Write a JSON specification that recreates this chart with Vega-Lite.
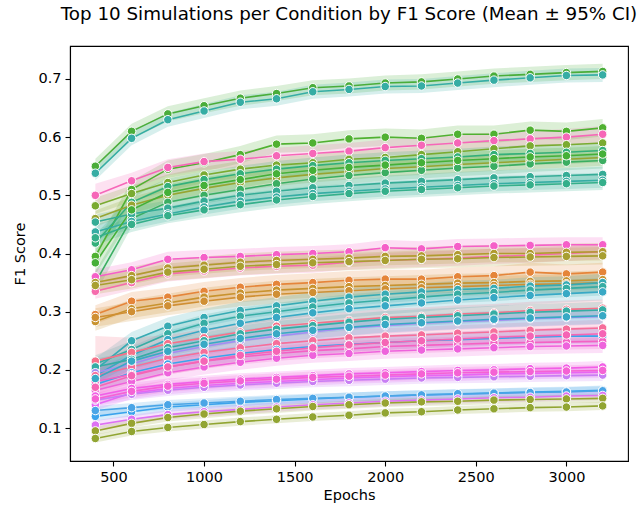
{"$schema":"https://vega.github.io/schema/vega-lite/v6.json","width":558,"height":415,"autosize":{"type":"none"},"padding":{"left":70,"top":46,"right":10,"bottom":48},"background":"white",
"title":{"text":"Top 10 Simulations per Condition by F1 Score (Mean ± 95% CI)","font":"DejaVu Sans","fontSize":18.3,"fontWeight":"normal","color":"black","anchor":"middle","offset":22},
"config":{"view":{"stroke":"black","strokeWidth":1.1},"axis":{"domainColor":"black","tickColor":"black","labelColor":"black","titleColor":"black","labelFont":"DejaVu Sans","titleFont":"DejaVu Sans","labelFontSize":14.5,"titleFontSize":14.5,"titleFontWeight":"normal","tickSize":5,"labelPadding":4,"grid":false,"domainWidth":1.1,"tickWidth":1.1}},
"data":{"values":[
{"s":"s01","x":400,"y":0.550,"l":0.537,"h":0.563},{"s":"s01","x":600,"y":0.610,"l":0.597,"h":0.623},{"s":"s01","x":800,"y":0.640,"l":0.627,"h":0.653},{"s":"s01","x":1000,"y":0.654,"l":0.641,"h":0.667},{"s":"s01","x":1200,"y":0.667,"l":0.654,"h":0.680},{"s":"s01","x":1400,"y":0.675,"l":0.662,"h":0.688},{"s":"s01","x":1600,"y":0.685,"l":0.672,"h":0.698},{"s":"s01","x":1800,"y":0.688,"l":0.675,"h":0.701},{"s":"s01","x":2000,"y":0.693,"l":0.680,"h":0.706},{"s":"s01","x":2200,"y":0.695,"l":0.682,"h":0.708},{"s":"s01","x":2400,"y":0.700,"l":0.687,"h":0.713},{"s":"s01","x":2600,"y":0.705,"l":0.692,"h":0.718},{"s":"s01","x":2800,"y":0.708,"l":0.695,"h":0.721},{"s":"s01","x":3000,"y":0.711,"l":0.698,"h":0.724},{"s":"s01","x":3200,"y":0.713,"l":0.700,"h":0.726},
{"s":"s02","x":400,"y":0.538,"l":0.526,"h":0.550},{"s":"s02","x":600,"y":0.598,"l":0.586,"h":0.610},{"s":"s02","x":800,"y":0.630,"l":0.618,"h":0.642},{"s":"s02","x":1000,"y":0.645,"l":0.633,"h":0.657},{"s":"s02","x":1200,"y":0.660,"l":0.648,"h":0.672},{"s":"s02","x":1400,"y":0.666,"l":0.654,"h":0.678},{"s":"s02","x":1600,"y":0.678,"l":0.666,"h":0.690},{"s":"s02","x":1800,"y":0.682,"l":0.670,"h":0.694},{"s":"s02","x":2000,"y":0.687,"l":0.675,"h":0.699},{"s":"s02","x":2200,"y":0.688,"l":0.676,"h":0.700},{"s":"s02","x":2400,"y":0.693,"l":0.681,"h":0.705},{"s":"s02","x":2600,"y":0.698,"l":0.686,"h":0.710},{"s":"s02","x":2800,"y":0.702,"l":0.690,"h":0.714},{"s":"s02","x":3000,"y":0.706,"l":0.694,"h":0.718},{"s":"s02","x":3200,"y":0.707,"l":0.695,"h":0.719},
{"s":"s03","x":400,"y":0.395,"l":0.375,"h":0.415},{"s":"s03","x":600,"y":0.510,"l":0.495,"h":0.525},{"s":"s03","x":800,"y":0.545,"l":0.530,"h":0.560},{"s":"s03","x":1000,"y":0.556,"l":0.541,"h":0.571},{"s":"s03","x":1200,"y":0.570,"l":0.555,"h":0.585},{"s":"s03","x":1400,"y":0.588,"l":0.573,"h":0.603},{"s":"s03","x":1600,"y":0.590,"l":0.575,"h":0.605},{"s":"s03","x":1800,"y":0.597,"l":0.582,"h":0.612},{"s":"s03","x":2000,"y":0.600,"l":0.585,"h":0.615},{"s":"s03","x":2200,"y":0.598,"l":0.583,"h":0.613},{"s":"s03","x":2400,"y":0.605,"l":0.590,"h":0.620},{"s":"s03","x":2600,"y":0.605,"l":0.590,"h":0.620},{"s":"s03","x":2800,"y":0.612,"l":0.597,"h":0.627},{"s":"s03","x":3000,"y":0.610,"l":0.595,"h":0.625},{"s":"s03","x":3200,"y":0.616,"l":0.601,"h":0.631},
{"s":"s04","x":400,"y":0.500,"l":0.480,"h":0.520},{"s":"s04","x":600,"y":0.525,"l":0.511,"h":0.539},{"s":"s04","x":800,"y":0.548,"l":0.534,"h":0.562},{"s":"s04","x":1000,"y":0.558,"l":0.544,"h":0.572},{"s":"s04","x":1200,"y":0.562,"l":0.548,"h":0.576},{"s":"s04","x":1400,"y":0.568,"l":0.554,"h":0.582},{"s":"s04","x":1600,"y":0.572,"l":0.558,"h":0.586},{"s":"s04","x":1800,"y":0.576,"l":0.562,"h":0.590},{"s":"s04","x":2000,"y":0.582,"l":0.568,"h":0.596},{"s":"s04","x":2200,"y":0.586,"l":0.572,"h":0.600},{"s":"s04","x":2400,"y":0.590,"l":0.576,"h":0.604},{"s":"s04","x":2600,"y":0.594,"l":0.580,"h":0.608},{"s":"s04","x":2800,"y":0.597,"l":0.583,"h":0.611},{"s":"s04","x":3000,"y":0.600,"l":0.586,"h":0.614},{"s":"s04","x":3200,"y":0.605,"l":0.591,"h":0.619},
{"s":"s05","x":400,"y":0.482,"l":0.468,"h":0.496},{"s":"s05","x":600,"y":0.503,"l":0.489,"h":0.517},{"s":"s05","x":800,"y":0.522,"l":0.508,"h":0.536},{"s":"s05","x":1000,"y":0.535,"l":0.521,"h":0.549},{"s":"s05","x":1200,"y":0.545,"l":0.531,"h":0.559},{"s":"s05","x":1400,"y":0.552,"l":0.538,"h":0.566},{"s":"s05","x":1600,"y":0.556,"l":0.542,"h":0.570},{"s":"s05","x":1800,"y":0.562,"l":0.548,"h":0.576},{"s":"s05","x":2000,"y":0.565,"l":0.551,"h":0.579},{"s":"s05","x":2200,"y":0.570,"l":0.556,"h":0.584},{"s":"s05","x":2400,"y":0.575,"l":0.561,"h":0.589},{"s":"s05","x":2600,"y":0.580,"l":0.566,"h":0.594},{"s":"s05","x":2800,"y":0.585,"l":0.571,"h":0.599},{"s":"s05","x":3000,"y":0.587,"l":0.573,"h":0.601},{"s":"s05","x":3200,"y":0.590,"l":0.576,"h":0.604},
{"s":"s06","x":400,"y":0.418,"l":0.404,"h":0.432},{"s":"s06","x":600,"y":0.488,"l":0.474,"h":0.502},{"s":"s06","x":800,"y":0.515,"l":0.501,"h":0.529},{"s":"s06","x":1000,"y":0.527,"l":0.513,"h":0.541},{"s":"s06","x":1200,"y":0.537,"l":0.523,"h":0.551},{"s":"s06","x":1400,"y":0.545,"l":0.531,"h":0.559},{"s":"s06","x":1600,"y":0.551,"l":0.537,"h":0.565},{"s":"s06","x":1800,"y":0.556,"l":0.542,"h":0.570},{"s":"s06","x":2000,"y":0.560,"l":0.546,"h":0.574},{"s":"s06","x":2200,"y":0.563,"l":0.549,"h":0.577},{"s":"s06","x":2400,"y":0.566,"l":0.552,"h":0.580},{"s":"s06","x":2600,"y":0.570,"l":0.556,"h":0.584},{"s":"s06","x":2800,"y":0.572,"l":0.558,"h":0.586},{"s":"s06","x":3000,"y":0.574,"l":0.560,"h":0.588},{"s":"s06","x":3200,"y":0.577,"l":0.563,"h":0.591},
{"s":"s07","x":400,"y":0.460,"l":0.446,"h":0.474},{"s":"s07","x":600,"y":0.483,"l":0.469,"h":0.497},{"s":"s07","x":800,"y":0.500,"l":0.486,"h":0.514},{"s":"s07","x":1000,"y":0.512,"l":0.498,"h":0.526},{"s":"s07","x":1200,"y":0.522,"l":0.508,"h":0.536},{"s":"s07","x":1400,"y":0.530,"l":0.516,"h":0.544},{"s":"s07","x":1600,"y":0.536,"l":0.522,"h":0.550},{"s":"s07","x":1800,"y":0.541,"l":0.527,"h":0.555},{"s":"s07","x":2000,"y":0.546,"l":0.532,"h":0.560},{"s":"s07","x":2200,"y":0.549,"l":0.535,"h":0.563},{"s":"s07","x":2400,"y":0.553,"l":0.539,"h":0.567},{"s":"s07","x":2600,"y":0.556,"l":0.542,"h":0.570},{"s":"s07","x":2800,"y":0.559,"l":0.545,"h":0.573},{"s":"s07","x":3000,"y":0.562,"l":0.548,"h":0.576},{"s":"s07","x":3200,"y":0.565,"l":0.551,"h":0.579},
{"s":"s08","x":400,"y":0.350,"l":0.330,"h":0.370},{"s":"s08","x":600,"y":0.460,"l":0.446,"h":0.474},{"s":"s08","x":800,"y":0.488,"l":0.474,"h":0.502},{"s":"s08","x":1000,"y":0.500,"l":0.486,"h":0.514},{"s":"s08","x":1200,"y":0.510,"l":0.496,"h":0.524},{"s":"s08","x":1400,"y":0.520,"l":0.506,"h":0.534},{"s":"s08","x":1600,"y":0.528,"l":0.514,"h":0.542},{"s":"s08","x":1800,"y":0.534,"l":0.520,"h":0.548},{"s":"s08","x":2000,"y":0.539,"l":0.525,"h":0.553},{"s":"s08","x":2200,"y":0.543,"l":0.529,"h":0.557},{"s":"s08","x":2400,"y":0.547,"l":0.533,"h":0.561},{"s":"s08","x":2600,"y":0.550,"l":0.536,"h":0.564},{"s":"s08","x":2800,"y":0.554,"l":0.540,"h":0.568},{"s":"s08","x":3000,"y":0.557,"l":0.543,"h":0.571},{"s":"s08","x":3200,"y":0.560,"l":0.546,"h":0.574},
{"s":"s09","x":400,"y":0.454,"l":0.441,"h":0.467},{"s":"s09","x":600,"y":0.468,"l":0.455,"h":0.481},{"s":"s09","x":800,"y":0.478,"l":0.465,"h":0.491},{"s":"s09","x":1000,"y":0.490,"l":0.477,"h":0.503},{"s":"s09","x":1200,"y":0.500,"l":0.487,"h":0.513},{"s":"s09","x":1400,"y":0.507,"l":0.494,"h":0.520},{"s":"s09","x":1600,"y":0.513,"l":0.500,"h":0.526},{"s":"s09","x":1800,"y":0.517,"l":0.504,"h":0.530},{"s":"s09","x":2000,"y":0.521,"l":0.508,"h":0.534},{"s":"s09","x":2200,"y":0.524,"l":0.511,"h":0.537},{"s":"s09","x":2400,"y":0.527,"l":0.514,"h":0.540},{"s":"s09","x":2600,"y":0.530,"l":0.517,"h":0.543},{"s":"s09","x":2800,"y":0.532,"l":0.519,"h":0.545},{"s":"s09","x":3000,"y":0.534,"l":0.521,"h":0.547},{"s":"s09","x":3200,"y":0.536,"l":0.523,"h":0.549},
{"s":"s10","x":400,"y":0.437,"l":0.424,"h":0.450},{"s":"s10","x":600,"y":0.455,"l":0.442,"h":0.468},{"s":"s10","x":800,"y":0.468,"l":0.455,"h":0.481},{"s":"s10","x":1000,"y":0.480,"l":0.467,"h":0.493},{"s":"s10","x":1200,"y":0.490,"l":0.477,"h":0.503},{"s":"s10","x":1400,"y":0.497,"l":0.484,"h":0.510},{"s":"s10","x":1600,"y":0.503,"l":0.490,"h":0.516},{"s":"s10","x":1800,"y":0.507,"l":0.494,"h":0.520},{"s":"s10","x":2000,"y":0.511,"l":0.498,"h":0.524},{"s":"s10","x":2200,"y":0.514,"l":0.501,"h":0.527},{"s":"s10","x":2400,"y":0.517,"l":0.504,"h":0.530},{"s":"s10","x":2600,"y":0.520,"l":0.507,"h":0.533},{"s":"s10","x":2800,"y":0.522,"l":0.509,"h":0.535},{"s":"s10","x":3000,"y":0.524,"l":0.511,"h":0.537},{"s":"s10","x":3200,"y":0.526,"l":0.513,"h":0.539},
{"s":"s11","x":400,"y":0.384,"l":0.364,"h":0.404},{"s":"s11","x":600,"y":0.475,"l":0.461,"h":0.489},{"s":"s11","x":800,"y":0.505,"l":0.491,"h":0.519},{"s":"s11","x":1000,"y":0.517,"l":0.503,"h":0.531},{"s":"s11","x":1200,"y":0.527,"l":0.513,"h":0.541},{"s":"s11","x":1400,"y":0.537,"l":0.523,"h":0.551},{"s":"s11","x":1600,"y":0.543,"l":0.529,"h":0.557},{"s":"s11","x":1800,"y":0.548,"l":0.534,"h":0.562},{"s":"s11","x":2000,"y":0.552,"l":0.538,"h":0.566},{"s":"s11","x":2200,"y":0.556,"l":0.542,"h":0.570},{"s":"s11","x":2400,"y":0.560,"l":0.546,"h":0.574},{"s":"s11","x":2600,"y":0.563,"l":0.549,"h":0.577},{"s":"s11","x":2800,"y":0.566,"l":0.552,"h":0.580},{"s":"s11","x":3000,"y":0.568,"l":0.554,"h":0.582},{"s":"s11","x":3200,"y":0.571,"l":0.557,"h":0.585},
{"s":"s12","x":400,"y":0.427,"l":0.414,"h":0.440},{"s":"s12","x":600,"y":0.450,"l":0.437,"h":0.463},{"s":"s12","x":800,"y":0.465,"l":0.452,"h":0.478},{"s":"s12","x":1000,"y":0.475,"l":0.462,"h":0.488},{"s":"s12","x":1200,"y":0.484,"l":0.471,"h":0.497},{"s":"s12","x":1400,"y":0.492,"l":0.479,"h":0.505},{"s":"s12","x":1600,"y":0.498,"l":0.485,"h":0.511},{"s":"s12","x":1800,"y":0.503,"l":0.490,"h":0.516},{"s":"s12","x":2000,"y":0.507,"l":0.494,"h":0.520},{"s":"s12","x":2200,"y":0.510,"l":0.497,"h":0.523},{"s":"s12","x":2400,"y":0.513,"l":0.500,"h":0.526},{"s":"s12","x":2600,"y":0.516,"l":0.503,"h":0.529},{"s":"s12","x":2800,"y":0.518,"l":0.505,"h":0.531},{"s":"s12","x":3000,"y":0.520,"l":0.507,"h":0.533},{"s":"s12","x":3200,"y":0.522,"l":0.509,"h":0.535},
{"s":"s13","x":400,"y":0.360,"l":0.347,"h":0.373},{"s":"s13","x":600,"y":0.372,"l":0.359,"h":0.385},{"s":"s13","x":800,"y":0.390,"l":0.377,"h":0.403},{"s":"s13","x":1000,"y":0.393,"l":0.380,"h":0.406},{"s":"s13","x":1200,"y":0.395,"l":0.382,"h":0.408},{"s":"s13","x":1400,"y":0.398,"l":0.385,"h":0.411},{"s":"s13","x":1600,"y":0.400,"l":0.387,"h":0.413},{"s":"s13","x":1800,"y":0.403,"l":0.390,"h":0.416},{"s":"s13","x":2000,"y":0.410,"l":0.397,"h":0.423},{"s":"s13","x":2200,"y":0.408,"l":0.395,"h":0.421},{"s":"s13","x":2400,"y":0.412,"l":0.399,"h":0.425},{"s":"s13","x":2600,"y":0.413,"l":0.400,"h":0.426},{"s":"s13","x":2800,"y":0.414,"l":0.401,"h":0.427},{"s":"s13","x":3000,"y":0.415,"l":0.402,"h":0.428},{"s":"s13","x":3200,"y":0.415,"l":0.402,"h":0.428},
{"s":"s14","x":400,"y":0.335,"l":0.322,"h":0.348},{"s":"s14","x":600,"y":0.350,"l":0.337,"h":0.363},{"s":"s14","x":800,"y":0.365,"l":0.352,"h":0.378},{"s":"s14","x":1000,"y":0.370,"l":0.357,"h":0.383},{"s":"s14","x":1200,"y":0.375,"l":0.362,"h":0.388},{"s":"s14","x":1400,"y":0.378,"l":0.365,"h":0.391},{"s":"s14","x":1600,"y":0.380,"l":0.367,"h":0.393},{"s":"s14","x":1800,"y":0.385,"l":0.372,"h":0.398},{"s":"s14","x":2000,"y":0.388,"l":0.375,"h":0.401},{"s":"s14","x":2200,"y":0.390,"l":0.377,"h":0.403},{"s":"s14","x":2400,"y":0.392,"l":0.379,"h":0.405},{"s":"s14","x":2600,"y":0.395,"l":0.382,"h":0.408},{"s":"s14","x":2800,"y":0.397,"l":0.384,"h":0.410},{"s":"s14","x":3000,"y":0.400,"l":0.387,"h":0.413},{"s":"s14","x":3200,"y":0.403,"l":0.390,"h":0.416},
{"s":"s15","x":400,"y":0.350,"l":0.335,"h":0.365},{"s":"s15","x":600,"y":0.362,"l":0.347,"h":0.377},{"s":"s15","x":800,"y":0.375,"l":0.360,"h":0.390},{"s":"s15","x":1000,"y":0.380,"l":0.365,"h":0.395},{"s":"s15","x":1200,"y":0.385,"l":0.370,"h":0.400},{"s":"s15","x":1400,"y":0.388,"l":0.373,"h":0.403},{"s":"s15","x":1600,"y":0.390,"l":0.375,"h":0.405},{"s":"s15","x":1800,"y":0.392,"l":0.377,"h":0.407},{"s":"s15","x":2000,"y":0.395,"l":0.380,"h":0.410},{"s":"s15","x":2200,"y":0.396,"l":0.381,"h":0.411},{"s":"s15","x":2400,"y":0.398,"l":0.383,"h":0.413},{"s":"s15","x":2600,"y":0.400,"l":0.385,"h":0.415},{"s":"s15","x":2800,"y":0.400,"l":0.385,"h":0.415},{"s":"s15","x":3000,"y":0.402,"l":0.387,"h":0.417},{"s":"s15","x":3200,"y":0.403,"l":0.388,"h":0.418},
{"s":"s16","x":400,"y":0.345,"l":0.330,"h":0.360},{"s":"s16","x":600,"y":0.355,"l":0.340,"h":0.370},{"s":"s16","x":800,"y":0.368,"l":0.353,"h":0.383},{"s":"s16","x":1000,"y":0.373,"l":0.358,"h":0.388},{"s":"s16","x":1200,"y":0.378,"l":0.363,"h":0.393},{"s":"s16","x":1400,"y":0.381,"l":0.366,"h":0.396},{"s":"s16","x":1600,"y":0.384,"l":0.369,"h":0.399},{"s":"s16","x":1800,"y":0.386,"l":0.371,"h":0.401},{"s":"s16","x":2000,"y":0.388,"l":0.373,"h":0.403},{"s":"s16","x":2200,"y":0.390,"l":0.375,"h":0.405},{"s":"s16","x":2400,"y":0.391,"l":0.376,"h":0.406},{"s":"s16","x":2600,"y":0.393,"l":0.378,"h":0.408},{"s":"s16","x":2800,"y":0.394,"l":0.379,"h":0.409},{"s":"s16","x":3000,"y":0.395,"l":0.380,"h":0.410},{"s":"s16","x":3200,"y":0.396,"l":0.381,"h":0.411},
{"s":"s17","x":400,"y":0.295,"l":0.279,"h":0.311},{"s":"s17","x":600,"y":0.318,"l":0.302,"h":0.334},{"s":"s17","x":800,"y":0.325,"l":0.309,"h":0.341},{"s":"s17","x":1000,"y":0.335,"l":0.319,"h":0.351},{"s":"s17","x":1200,"y":0.342,"l":0.326,"h":0.358},{"s":"s17","x":1400,"y":0.347,"l":0.331,"h":0.363},{"s":"s17","x":1600,"y":0.350,"l":0.334,"h":0.366},{"s":"s17","x":1800,"y":0.354,"l":0.338,"h":0.370},{"s":"s17","x":2000,"y":0.356,"l":0.340,"h":0.372},{"s":"s17","x":2200,"y":0.356,"l":0.340,"h":0.372},{"s":"s17","x":2400,"y":0.360,"l":0.344,"h":0.376},{"s":"s17","x":2600,"y":0.362,"l":0.346,"h":0.378},{"s":"s17","x":2800,"y":0.368,"l":0.352,"h":0.384},{"s":"s17","x":3000,"y":0.365,"l":0.349,"h":0.381},{"s":"s17","x":3200,"y":0.368,"l":0.352,"h":0.384},
{"s":"s18","x":400,"y":0.283,"l":0.267,"h":0.299},{"s":"s18","x":600,"y":0.305,"l":0.289,"h":0.321},{"s":"s18","x":800,"y":0.315,"l":0.299,"h":0.331},{"s":"s18","x":1000,"y":0.325,"l":0.309,"h":0.341},{"s":"s18","x":1200,"y":0.332,"l":0.316,"h":0.348},{"s":"s18","x":1400,"y":0.337,"l":0.321,"h":0.353},{"s":"s18","x":1600,"y":0.340,"l":0.324,"h":0.356},{"s":"s18","x":1800,"y":0.343,"l":0.327,"h":0.359},{"s":"s18","x":2000,"y":0.345,"l":0.329,"h":0.361},{"s":"s18","x":2200,"y":0.347,"l":0.331,"h":0.363},{"s":"s18","x":2400,"y":0.349,"l":0.333,"h":0.365},{"s":"s18","x":2600,"y":0.350,"l":0.334,"h":0.366},{"s":"s18","x":2800,"y":0.352,"l":0.336,"h":0.368},{"s":"s18","x":3000,"y":0.353,"l":0.337,"h":0.369},{"s":"s18","x":3200,"y":0.355,"l":0.339,"h":0.371},
{"s":"s19","x":400,"y":0.290,"l":0.274,"h":0.306},{"s":"s19","x":600,"y":0.300,"l":0.284,"h":0.316},{"s":"s19","x":800,"y":0.310,"l":0.294,"h":0.326},{"s":"s19","x":1000,"y":0.318,"l":0.302,"h":0.334},{"s":"s19","x":1200,"y":0.325,"l":0.309,"h":0.341},{"s":"s19","x":1400,"y":0.330,"l":0.314,"h":0.346},{"s":"s19","x":1600,"y":0.333,"l":0.317,"h":0.349},{"s":"s19","x":1800,"y":0.336,"l":0.320,"h":0.352},{"s":"s19","x":2000,"y":0.339,"l":0.323,"h":0.355},{"s":"s19","x":2200,"y":0.341,"l":0.325,"h":0.357},{"s":"s19","x":2400,"y":0.343,"l":0.327,"h":0.359},{"s":"s19","x":2600,"y":0.345,"l":0.329,"h":0.361},{"s":"s19","x":2800,"y":0.347,"l":0.331,"h":0.363},{"s":"s19","x":3000,"y":0.348,"l":0.332,"h":0.364},{"s":"s19","x":3200,"y":0.350,"l":0.334,"h":0.366},
{"s":"s20","x":400,"y":0.200,"l":0.180,"h":0.220},{"s":"s20","x":600,"y":0.250,"l":0.235,"h":0.265},{"s":"s20","x":800,"y":0.275,"l":0.260,"h":0.290},{"s":"s20","x":1000,"y":0.290,"l":0.275,"h":0.305},{"s":"s20","x":1200,"y":0.302,"l":0.287,"h":0.317},{"s":"s20","x":1400,"y":0.310,"l":0.295,"h":0.325},{"s":"s20","x":1600,"y":0.318,"l":0.303,"h":0.333},{"s":"s20","x":1800,"y":0.325,"l":0.310,"h":0.340},{"s":"s20","x":2000,"y":0.330,"l":0.315,"h":0.345},{"s":"s20","x":2200,"y":0.334,"l":0.319,"h":0.349},{"s":"s20","x":2400,"y":0.338,"l":0.323,"h":0.353},{"s":"s20","x":2600,"y":0.340,"l":0.325,"h":0.355},{"s":"s20","x":2800,"y":0.344,"l":0.329,"h":0.359},{"s":"s20","x":3000,"y":0.346,"l":0.331,"h":0.361},{"s":"s20","x":3200,"y":0.350,"l":0.335,"h":0.365},
{"s":"s21","x":400,"y":0.210,"l":0.195,"h":0.225},{"s":"s21","x":600,"y":0.235,"l":0.220,"h":0.250},{"s":"s21","x":800,"y":0.262,"l":0.247,"h":0.277},{"s":"s21","x":1000,"y":0.280,"l":0.265,"h":0.295},{"s":"s21","x":1200,"y":0.292,"l":0.277,"h":0.307},{"s":"s21","x":1400,"y":0.300,"l":0.285,"h":0.315},{"s":"s21","x":1600,"y":0.308,"l":0.293,"h":0.323},{"s":"s21","x":1800,"y":0.315,"l":0.300,"h":0.330},{"s":"s21","x":2000,"y":0.320,"l":0.305,"h":0.335},{"s":"s21","x":2200,"y":0.325,"l":0.310,"h":0.340},{"s":"s21","x":2400,"y":0.330,"l":0.315,"h":0.345},{"s":"s21","x":2600,"y":0.333,"l":0.318,"h":0.348},{"s":"s21","x":2800,"y":0.337,"l":0.322,"h":0.352},{"s":"s21","x":3000,"y":0.340,"l":0.325,"h":0.355},{"s":"s21","x":3200,"y":0.343,"l":0.328,"h":0.358},
{"s":"s22","x":400,"y":0.190,"l":0.175,"h":0.205},{"s":"s22","x":600,"y":0.225,"l":0.210,"h":0.240},{"s":"s22","x":800,"y":0.252,"l":0.237,"h":0.267},{"s":"s22","x":1000,"y":0.268,"l":0.253,"h":0.283},{"s":"s22","x":1200,"y":0.280,"l":0.265,"h":0.295},{"s":"s22","x":1400,"y":0.290,"l":0.275,"h":0.305},{"s":"s22","x":1600,"y":0.298,"l":0.283,"h":0.313},{"s":"s22","x":1800,"y":0.305,"l":0.290,"h":0.320},{"s":"s22","x":2000,"y":0.310,"l":0.295,"h":0.325},{"s":"s22","x":2200,"y":0.315,"l":0.300,"h":0.330},{"s":"s22","x":2400,"y":0.320,"l":0.305,"h":0.335},{"s":"s22","x":2600,"y":0.324,"l":0.309,"h":0.339},{"s":"s22","x":2800,"y":0.328,"l":0.313,"h":0.343},{"s":"s22","x":3000,"y":0.331,"l":0.316,"h":0.346},{"s":"s22","x":3200,"y":0.334,"l":0.319,"h":0.349},
{"s":"s23","x":400,"y":0.215,"l":0.180,"h":0.258},{"s":"s23","x":600,"y":0.230,"l":0.205,"h":0.255},{"s":"s23","x":800,"y":0.245,"l":0.230,"h":0.260},{"s":"s23","x":1000,"y":0.255,"l":0.240,"h":0.270},{"s":"s23","x":1200,"y":0.265,"l":0.250,"h":0.280},{"s":"s23","x":1400,"y":0.275,"l":0.260,"h":0.290},{"s":"s23","x":1600,"y":0.280,"l":0.265,"h":0.295},{"s":"s23","x":1800,"y":0.285,"l":0.270,"h":0.300},{"s":"s23","x":2000,"y":0.290,"l":0.275,"h":0.305},{"s":"s23","x":2200,"y":0.292,"l":0.277,"h":0.307},{"s":"s23","x":2400,"y":0.296,"l":0.281,"h":0.311},{"s":"s23","x":2600,"y":0.298,"l":0.283,"h":0.313},{"s":"s23","x":2800,"y":0.302,"l":0.287,"h":0.317},{"s":"s23","x":3000,"y":0.304,"l":0.289,"h":0.319},{"s":"s23","x":3200,"y":0.306,"l":0.291,"h":0.321},
{"s":"s24","x":400,"y":0.205,"l":0.191,"h":0.219},{"s":"s24","x":600,"y":0.218,"l":0.204,"h":0.232},{"s":"s24","x":800,"y":0.238,"l":0.224,"h":0.252},{"s":"s24","x":1000,"y":0.250,"l":0.236,"h":0.264},{"s":"s24","x":1200,"y":0.262,"l":0.248,"h":0.276},{"s":"s24","x":1400,"y":0.270,"l":0.256,"h":0.284},{"s":"s24","x":1600,"y":0.276,"l":0.262,"h":0.290},{"s":"s24","x":1800,"y":0.282,"l":0.268,"h":0.296},{"s":"s24","x":2000,"y":0.287,"l":0.273,"h":0.301},{"s":"s24","x":2200,"y":0.290,"l":0.276,"h":0.304},{"s":"s24","x":2400,"y":0.293,"l":0.279,"h":0.307},{"s":"s24","x":2600,"y":0.296,"l":0.282,"h":0.310},{"s":"s24","x":2800,"y":0.299,"l":0.285,"h":0.313},{"s":"s24","x":3000,"y":0.301,"l":0.287,"h":0.315},{"s":"s24","x":3200,"y":0.303,"l":0.289,"h":0.317},
{"s":"s25","x":400,"y":0.195,"l":0.181,"h":0.209},{"s":"s25","x":600,"y":0.210,"l":0.196,"h":0.224},{"s":"s25","x":800,"y":0.228,"l":0.214,"h":0.242},{"s":"s25","x":1000,"y":0.240,"l":0.226,"h":0.254},{"s":"s25","x":1200,"y":0.250,"l":0.236,"h":0.264},{"s":"s25","x":1400,"y":0.258,"l":0.244,"h":0.272},{"s":"s25","x":1600,"y":0.265,"l":0.251,"h":0.279},{"s":"s25","x":1800,"y":0.272,"l":0.258,"h":0.286},{"s":"s25","x":2000,"y":0.276,"l":0.262,"h":0.290},{"s":"s25","x":2200,"y":0.280,"l":0.266,"h":0.294},{"s":"s25","x":2400,"y":0.283,"l":0.269,"h":0.297},{"s":"s25","x":2600,"y":0.285,"l":0.271,"h":0.299},{"s":"s25","x":2800,"y":0.288,"l":0.274,"h":0.302},{"s":"s25","x":3000,"y":0.290,"l":0.276,"h":0.304},{"s":"s25","x":3200,"y":0.292,"l":0.278,"h":0.306},
{"s":"s26","x":400,"y":0.190,"l":0.176,"h":0.204},{"s":"s26","x":600,"y":0.205,"l":0.191,"h":0.219},{"s":"s26","x":800,"y":0.220,"l":0.206,"h":0.234},{"s":"s26","x":1000,"y":0.230,"l":0.216,"h":0.244},{"s":"s26","x":1200,"y":0.238,"l":0.224,"h":0.252},{"s":"s26","x":1400,"y":0.245,"l":0.231,"h":0.259},{"s":"s26","x":1600,"y":0.250,"l":0.236,"h":0.264},{"s":"s26","x":1800,"y":0.255,"l":0.241,"h":0.269},{"s":"s26","x":2000,"y":0.258,"l":0.244,"h":0.272},{"s":"s26","x":2200,"y":0.260,"l":0.246,"h":0.274},{"s":"s26","x":2400,"y":0.263,"l":0.249,"h":0.277},{"s":"s26","x":2600,"y":0.265,"l":0.251,"h":0.279},{"s":"s26","x":2800,"y":0.268,"l":0.254,"h":0.282},{"s":"s26","x":3000,"y":0.270,"l":0.256,"h":0.284},{"s":"s26","x":3200,"y":0.272,"l":0.258,"h":0.286},
{"s":"s27","x":400,"y":0.175,"l":0.162,"h":0.188},{"s":"s27","x":600,"y":0.195,"l":0.182,"h":0.208},{"s":"s27","x":800,"y":0.210,"l":0.197,"h":0.223},{"s":"s27","x":1000,"y":0.220,"l":0.207,"h":0.233},{"s":"s27","x":1200,"y":0.228,"l":0.215,"h":0.241},{"s":"s27","x":1400,"y":0.235,"l":0.222,"h":0.248},{"s":"s27","x":1600,"y":0.240,"l":0.227,"h":0.253},{"s":"s27","x":1800,"y":0.244,"l":0.231,"h":0.257},{"s":"s27","x":2000,"y":0.247,"l":0.234,"h":0.260},{"s":"s27","x":2200,"y":0.250,"l":0.237,"h":0.263},{"s":"s27","x":2400,"y":0.252,"l":0.239,"h":0.265},{"s":"s27","x":2600,"y":0.254,"l":0.241,"h":0.267},{"s":"s27","x":2800,"y":0.256,"l":0.243,"h":0.269},{"s":"s27","x":3000,"y":0.258,"l":0.245,"h":0.271},{"s":"s27","x":3200,"y":0.258,"l":0.245,"h":0.271},
{"s":"s28","x":400,"y":0.180,"l":0.167,"h":0.193},{"s":"s28","x":600,"y":0.192,"l":0.179,"h":0.205},{"s":"s28","x":800,"y":0.205,"l":0.192,"h":0.218},{"s":"s28","x":1000,"y":0.215,"l":0.202,"h":0.228},{"s":"s28","x":1200,"y":0.222,"l":0.209,"h":0.235},{"s":"s28","x":1400,"y":0.228,"l":0.215,"h":0.241},{"s":"s28","x":1600,"y":0.233,"l":0.220,"h":0.246},{"s":"s28","x":1800,"y":0.236,"l":0.223,"h":0.249},{"s":"s28","x":2000,"y":0.240,"l":0.227,"h":0.253},{"s":"s28","x":2200,"y":0.242,"l":0.229,"h":0.255},{"s":"s28","x":2400,"y":0.244,"l":0.231,"h":0.257},{"s":"s28","x":2600,"y":0.246,"l":0.233,"h":0.259},{"s":"s28","x":2800,"y":0.247,"l":0.234,"h":0.260},{"s":"s28","x":3000,"y":0.248,"l":0.235,"h":0.261},{"s":"s28","x":3200,"y":0.249,"l":0.236,"h":0.262},
{"s":"s29","x":400,"y":0.185,"l":0.171,"h":0.199},{"s":"s29","x":600,"y":0.215,"l":0.201,"h":0.229},{"s":"s29","x":800,"y":0.232,"l":0.218,"h":0.246},{"s":"s29","x":1000,"y":0.244,"l":0.230,"h":0.258},{"s":"s29","x":1200,"y":0.254,"l":0.240,"h":0.268},{"s":"s29","x":1400,"y":0.262,"l":0.248,"h":0.276},{"s":"s29","x":1600,"y":0.268,"l":0.254,"h":0.282},{"s":"s29","x":1800,"y":0.273,"l":0.259,"h":0.287},{"s":"s29","x":2000,"y":0.278,"l":0.264,"h":0.292},{"s":"s29","x":2200,"y":0.281,"l":0.267,"h":0.295},{"s":"s29","x":2400,"y":0.284,"l":0.270,"h":0.298},{"s":"s29","x":2600,"y":0.287,"l":0.273,"h":0.301},{"s":"s29","x":2800,"y":0.289,"l":0.275,"h":0.303},{"s":"s29","x":3000,"y":0.291,"l":0.277,"h":0.305},{"s":"s29","x":3200,"y":0.293,"l":0.279,"h":0.307},
{"s":"s30","x":400,"y":0.165,"l":0.152,"h":0.178},{"s":"s30","x":600,"y":0.180,"l":0.167,"h":0.193},{"s":"s30","x":800,"y":0.195,"l":0.182,"h":0.208},{"s":"s30","x":1000,"y":0.205,"l":0.192,"h":0.218},{"s":"s30","x":1200,"y":0.213,"l":0.200,"h":0.226},{"s":"s30","x":1400,"y":0.220,"l":0.207,"h":0.233},{"s":"s30","x":1600,"y":0.225,"l":0.212,"h":0.238},{"s":"s30","x":1800,"y":0.228,"l":0.215,"h":0.241},{"s":"s30","x":2000,"y":0.232,"l":0.219,"h":0.245},{"s":"s30","x":2200,"y":0.234,"l":0.221,"h":0.247},{"s":"s30","x":2400,"y":0.236,"l":0.223,"h":0.249},{"s":"s30","x":2600,"y":0.238,"l":0.225,"h":0.251},{"s":"s30","x":2800,"y":0.240,"l":0.227,"h":0.253},{"s":"s30","x":3000,"y":0.241,"l":0.228,"h":0.254},{"s":"s30","x":3200,"y":0.242,"l":0.229,"h":0.255},
{"s":"s31","x":400,"y":0.170,"l":0.157,"h":0.183},{"s":"s31","x":600,"y":0.190,"l":0.177,"h":0.203},{"s":"s31","x":800,"y":0.205,"l":0.192,"h":0.218},{"s":"s31","x":1000,"y":0.215,"l":0.202,"h":0.228},{"s":"s31","x":1200,"y":0.225,"l":0.212,"h":0.238},{"s":"s31","x":1400,"y":0.232,"l":0.219,"h":0.245},{"s":"s31","x":1600,"y":0.238,"l":0.225,"h":0.251},{"s":"s31","x":1800,"y":0.243,"l":0.230,"h":0.256},{"s":"s31","x":2000,"y":0.247,"l":0.234,"h":0.260},{"s":"s31","x":2200,"y":0.250,"l":0.237,"h":0.263},{"s":"s31","x":2400,"y":0.253,"l":0.240,"h":0.266},{"s":"s31","x":2600,"y":0.256,"l":0.243,"h":0.269},{"s":"s31","x":2800,"y":0.258,"l":0.245,"h":0.271},{"s":"s31","x":3000,"y":0.260,"l":0.247,"h":0.273},{"s":"s31","x":3200,"y":0.262,"l":0.249,"h":0.275},
{"s":"s32","x":400,"y":0.155,"l":0.145,"h":0.165},{"s":"s32","x":600,"y":0.168,"l":0.158,"h":0.178},{"s":"s32","x":800,"y":0.175,"l":0.165,"h":0.185},{"s":"s32","x":1000,"y":0.180,"l":0.170,"h":0.190},{"s":"s32","x":1200,"y":0.184,"l":0.174,"h":0.194},{"s":"s32","x":1400,"y":0.187,"l":0.177,"h":0.197},{"s":"s32","x":1600,"y":0.190,"l":0.180,"h":0.200},{"s":"s32","x":1800,"y":0.193,"l":0.183,"h":0.203},{"s":"s32","x":2000,"y":0.195,"l":0.185,"h":0.205},{"s":"s32","x":2200,"y":0.197,"l":0.187,"h":0.207},{"s":"s32","x":2400,"y":0.199,"l":0.189,"h":0.209},{"s":"s32","x":2600,"y":0.200,"l":0.190,"h":0.210},{"s":"s32","x":2800,"y":0.202,"l":0.192,"h":0.212},{"s":"s32","x":3000,"y":0.203,"l":0.193,"h":0.213},{"s":"s32","x":3200,"y":0.205,"l":0.195,"h":0.215},
{"s":"s33","x":400,"y":0.140,"l":0.130,"h":0.150},{"s":"s33","x":600,"y":0.160,"l":0.150,"h":0.170},{"s":"s33","x":800,"y":0.168,"l":0.158,"h":0.178},{"s":"s33","x":1000,"y":0.173,"l":0.163,"h":0.183},{"s":"s33","x":1200,"y":0.177,"l":0.167,"h":0.187},{"s":"s33","x":1400,"y":0.180,"l":0.170,"h":0.190},{"s":"s33","x":1600,"y":0.183,"l":0.173,"h":0.193},{"s":"s33","x":1800,"y":0.186,"l":0.176,"h":0.196},{"s":"s33","x":2000,"y":0.188,"l":0.178,"h":0.198},{"s":"s33","x":2200,"y":0.190,"l":0.180,"h":0.200},{"s":"s33","x":2400,"y":0.191,"l":0.181,"h":0.201},{"s":"s33","x":2600,"y":0.193,"l":0.183,"h":0.203},{"s":"s33","x":2800,"y":0.194,"l":0.184,"h":0.204},{"s":"s33","x":3000,"y":0.195,"l":0.185,"h":0.205},{"s":"s33","x":3200,"y":0.196,"l":0.186,"h":0.206},
{"s":"s34","x":400,"y":0.148,"l":0.138,"h":0.158},{"s":"s34","x":600,"y":0.158,"l":0.148,"h":0.168},{"s":"s34","x":800,"y":0.165,"l":0.155,"h":0.175},{"s":"s34","x":1000,"y":0.170,"l":0.160,"h":0.180},{"s":"s34","x":1200,"y":0.174,"l":0.164,"h":0.184},{"s":"s34","x":1400,"y":0.177,"l":0.167,"h":0.187},{"s":"s34","x":1600,"y":0.180,"l":0.170,"h":0.190},{"s":"s34","x":1800,"y":0.182,"l":0.172,"h":0.192},{"s":"s34","x":2000,"y":0.184,"l":0.174,"h":0.194},{"s":"s34","x":2200,"y":0.186,"l":0.176,"h":0.196},{"s":"s34","x":2400,"y":0.187,"l":0.177,"h":0.197},{"s":"s34","x":2600,"y":0.188,"l":0.178,"h":0.198},{"s":"s34","x":2800,"y":0.189,"l":0.179,"h":0.199},{"s":"s34","x":3000,"y":0.190,"l":0.180,"h":0.200},{"s":"s34","x":3200,"y":0.191,"l":0.181,"h":0.201},
{"s":"s35","x":400,"y":0.150,"l":0.140,"h":0.160},{"s":"s35","x":600,"y":0.163,"l":0.153,"h":0.173},{"s":"s35","x":800,"y":0.172,"l":0.162,"h":0.182},{"s":"s35","x":1000,"y":0.177,"l":0.167,"h":0.187},{"s":"s35","x":1200,"y":0.181,"l":0.171,"h":0.191},{"s":"s35","x":1400,"y":0.184,"l":0.174,"h":0.194},{"s":"s35","x":1600,"y":0.187,"l":0.177,"h":0.197},{"s":"s35","x":1800,"y":0.189,"l":0.179,"h":0.199},{"s":"s35","x":2000,"y":0.191,"l":0.181,"h":0.201},{"s":"s35","x":2200,"y":0.193,"l":0.183,"h":0.203},{"s":"s35","x":2400,"y":0.195,"l":0.185,"h":0.205},{"s":"s35","x":2600,"y":0.196,"l":0.186,"h":0.206},{"s":"s35","x":2800,"y":0.197,"l":0.187,"h":0.207},{"s":"s35","x":3000,"y":0.198,"l":0.188,"h":0.208},{"s":"s35","x":3200,"y":0.199,"l":0.189,"h":0.209},
{"s":"s36","x":400,"y":0.120,"l":0.112,"h":0.128},{"s":"s36","x":600,"y":0.128,"l":0.120,"h":0.136},{"s":"s36","x":800,"y":0.136,"l":0.128,"h":0.144},{"s":"s36","x":1000,"y":0.140,"l":0.132,"h":0.148},{"s":"s36","x":1200,"y":0.144,"l":0.136,"h":0.152},{"s":"s36","x":1400,"y":0.147,"l":0.139,"h":0.155},{"s":"s36","x":1600,"y":0.150,"l":0.142,"h":0.158},{"s":"s36","x":1800,"y":0.153,"l":0.145,"h":0.161},{"s":"s36","x":2000,"y":0.155,"l":0.147,"h":0.163},{"s":"s36","x":2200,"y":0.157,"l":0.149,"h":0.165},{"s":"s36","x":2400,"y":0.158,"l":0.150,"h":0.166},{"s":"s36","x":2600,"y":0.160,"l":0.152,"h":0.168},{"s":"s36","x":2800,"y":0.162,"l":0.154,"h":0.170},{"s":"s36","x":3000,"y":0.163,"l":0.155,"h":0.171},{"s":"s36","x":3200,"y":0.165,"l":0.157,"h":0.173},
{"s":"s37","x":400,"y":0.130,"l":0.122,"h":0.138},{"s":"s37","x":600,"y":0.135,"l":0.127,"h":0.143},{"s":"s37","x":800,"y":0.140,"l":0.132,"h":0.148},{"s":"s37","x":1000,"y":0.143,"l":0.135,"h":0.151},{"s":"s37","x":1200,"y":0.146,"l":0.138,"h":0.154},{"s":"s37","x":1400,"y":0.149,"l":0.141,"h":0.157},{"s":"s37","x":1600,"y":0.151,"l":0.143,"h":0.159},{"s":"s37","x":1800,"y":0.153,"l":0.145,"h":0.161},{"s":"s37","x":2000,"y":0.155,"l":0.147,"h":0.163},{"s":"s37","x":2200,"y":0.157,"l":0.149,"h":0.165},{"s":"s37","x":2400,"y":0.159,"l":0.151,"h":0.167},{"s":"s37","x":2600,"y":0.160,"l":0.152,"h":0.168},{"s":"s37","x":2800,"y":0.161,"l":0.153,"h":0.169},{"s":"s37","x":3000,"y":0.162,"l":0.154,"h":0.170},{"s":"s37","x":3200,"y":0.164,"l":0.156,"h":0.172},
{"s":"s38","x":400,"y":0.105,"l":0.097,"h":0.113},{"s":"s38","x":600,"y":0.115,"l":0.107,"h":0.123},{"s":"s38","x":800,"y":0.123,"l":0.115,"h":0.131},{"s":"s38","x":1000,"y":0.128,"l":0.120,"h":0.136},{"s":"s38","x":1200,"y":0.132,"l":0.124,"h":0.140},{"s":"s38","x":1400,"y":0.136,"l":0.128,"h":0.144},{"s":"s38","x":1600,"y":0.140,"l":0.132,"h":0.148},{"s":"s38","x":1800,"y":0.143,"l":0.135,"h":0.151},{"s":"s38","x":2000,"y":0.146,"l":0.138,"h":0.154},{"s":"s38","x":2200,"y":0.148,"l":0.140,"h":0.156},{"s":"s38","x":2400,"y":0.150,"l":0.142,"h":0.158},{"s":"s38","x":2600,"y":0.152,"l":0.144,"h":0.160},{"s":"s38","x":2800,"y":0.153,"l":0.145,"h":0.161},{"s":"s38","x":3000,"y":0.155,"l":0.147,"h":0.163},{"s":"s38","x":3200,"y":0.156,"l":0.148,"h":0.164},
{"s":"s39","x":400,"y":0.095,"l":0.088,"h":0.102},{"s":"s39","x":600,"y":0.108,"l":0.101,"h":0.115},{"s":"s39","x":800,"y":0.118,"l":0.111,"h":0.125},{"s":"s39","x":1000,"y":0.124,"l":0.117,"h":0.131},{"s":"s39","x":1200,"y":0.129,"l":0.122,"h":0.136},{"s":"s39","x":1400,"y":0.133,"l":0.126,"h":0.140},{"s":"s39","x":1600,"y":0.137,"l":0.130,"h":0.144},{"s":"s39","x":1800,"y":0.140,"l":0.133,"h":0.147},{"s":"s39","x":2000,"y":0.143,"l":0.136,"h":0.150},{"s":"s39","x":2200,"y":0.145,"l":0.138,"h":0.152},{"s":"s39","x":2400,"y":0.146,"l":0.139,"h":0.153},{"s":"s39","x":2600,"y":0.148,"l":0.141,"h":0.155},{"s":"s39","x":2800,"y":0.149,"l":0.142,"h":0.156},{"s":"s39","x":3000,"y":0.150,"l":0.143,"h":0.157},{"s":"s39","x":3200,"y":0.151,"l":0.144,"h":0.158},
{"s":"s40","x":400,"y":0.082,"l":0.075,"h":0.089},{"s":"s40","x":600,"y":0.094,"l":0.087,"h":0.101},{"s":"s40","x":800,"y":0.101,"l":0.094,"h":0.108},{"s":"s40","x":1000,"y":0.106,"l":0.099,"h":0.113},{"s":"s40","x":1200,"y":0.111,"l":0.104,"h":0.118},{"s":"s40","x":1400,"y":0.115,"l":0.108,"h":0.122},{"s":"s40","x":1600,"y":0.119,"l":0.112,"h":0.126},{"s":"s40","x":1800,"y":0.122,"l":0.115,"h":0.129},{"s":"s40","x":2000,"y":0.126,"l":0.119,"h":0.133},{"s":"s40","x":2200,"y":0.128,"l":0.121,"h":0.135},{"s":"s40","x":2400,"y":0.131,"l":0.124,"h":0.138},{"s":"s40","x":2600,"y":0.133,"l":0.126,"h":0.140},{"s":"s40","x":2800,"y":0.135,"l":0.128,"h":0.142},{"s":"s40","x":3000,"y":0.136,"l":0.129,"h":0.143},{"s":"s40","x":3200,"y":0.138,"l":0.131,"h":0.145}
]},
"encoding":{
"x":{"field":"x","type":"quantitative","scale":{"domain":[260,3340],"nice":false,"zero":false},"axis":{"values":[500,1000,1500,2000,2500,3000],"format":"d","title":"Epochs","titlePadding":5}},
"color":{"field":"s","type":"nominal","legend":null,"scale":{"domain":["s01","s02","s03","s04","s05","s06","s07","s08","s09","s10","s11","s12","s13","s14","s15","s16","s17","s18","s19","s20","s21","s22","s23","s24","s25","s26","s27","s28","s29","s30","s31","s32","s33","s34","s35","s36","s37","s38","s39","s40"],"range":["#4aad3a","#36ada4","#50b131","#f667b8","#7aab31","#33b07a","#97a431","#3bae62","#35ac96","#36ada4","#45b038","#34af8a","#f55fc8","#f66bad","#b19b30","#a89f31","#e5853a","#c8932f","#d08f33","#37abb4","#36ada4","#38a9c5","#f77189","#36ada4","#a48cf4","#f66e9a","#3ba3ec","#f461c4","#38a9c5","#ee63dc","#f565b5","#f25ee6","#e866f4","#c87ef4","#f562d4","#3ba3ec","#4aa5e6","#dd72f3","#97a431","#91a532"]}}
},
"layer":[
{"mark":{"type":"area","opacity":0.2},"encoding":{"y":{"field":"l","type":"quantitative","scale":{"domain":[0.0433,0.7567],"nice":false,"zero":false},"axis":{"values":[0.1,0.2,0.3,0.4,0.5,0.6,0.7],"format":".1f","title":"F1 Score","titlePadding":10}},"y2":{"field":"h"}}},
{"mark":{"type":"line","strokeWidth":1.6},"encoding":{"y":{"field":"y","type":"quantitative","title":"F1 Score"}}},
{"mark":{"type":"point","filled":true,"size":72,"stroke":"white","strokeWidth":1,"opacity":1},"encoding":{"y":{"field":"y","type":"quantitative","title":"F1 Score"}}}
]}
